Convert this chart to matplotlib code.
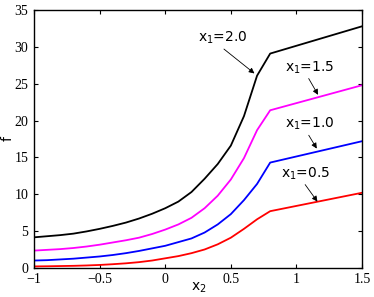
import matplotlib
matplotlib.use("Agg")
import matplotlib.pyplot as plt

x2 = [-1.0, -0.9, -0.8, -0.7, -0.6, -0.5, -0.4, -0.3, -0.2, -0.1,
      0.0, 0.1, 0.2, 0.3, 0.4, 0.5, 0.6, 0.7, 0.8, 1.5]

f_20 = [4.15, 4.3, 4.45, 4.65, 4.95, 5.3, 5.7, 6.15, 6.7, 7.35,
        8.1, 9.0, 10.3, 12.1, 14.1, 16.6, 20.6, 26.1, 29.1, 32.8]
f_15 = [2.35, 2.45, 2.55, 2.7, 2.9, 3.15, 3.45, 3.75, 4.1, 4.6,
        5.2, 5.9, 6.8, 8.1, 9.8, 12.0, 14.9, 18.7, 21.4, 24.8]
f_10 = [1.0, 1.05, 1.15, 1.25, 1.4, 1.55, 1.75, 2.0, 2.3, 2.65,
        3.0, 3.5, 4.0, 4.8, 5.9, 7.3, 9.2, 11.4, 14.3, 17.2]
f_05 = [0.2, 0.22, 0.25, 0.28, 0.33, 0.4, 0.5, 0.62, 0.78, 1.0,
        1.3, 1.6, 2.0, 2.5, 3.2, 4.1, 5.3, 6.6, 7.7, 10.2]

series = [f_20, f_15, f_10, f_05]
colors = ['black', 'magenta', 'blue', 'red']
labels = ['x$_1$=2.0', 'x$_1$=1.5', 'x$_1$=1.0', 'x$_1$=0.5']
label_pos = [(0.44, 31.2), (1.10, 27.2), (1.10, 19.5), (1.07, 12.8)]
arrow_tip = [(0.68, 26.4), (1.165, 23.5), (1.155, 16.2), (1.16, 9.0)]

plt.rcParams['mathtext.fontset'] = 'dejavusans'

fig = plt.figure(figsize=(3.74, 2.97), dpi=100)
ax = fig.add_axes([0.091, 0.098, 0.877, 0.868])

for y, c in zip(series, colors):
    ax.plot(x2, y, color=c, lw=1.3)

for lab, pos, tip in zip(labels, label_pos, arrow_tip):
    ax.annotate(lab, xy=tip, xytext=pos, ha='center', va='center',
                fontsize=10, family='DejaVu Sans',
                arrowprops=dict(arrowstyle='-|>', color='black', lw=0.6,
                                mutation_scale=8, shrinkA=0, shrinkB=0,
                                relpos=(0.45, 0.0)))

ax.set_xlim(-1, 1.5)
ax.set_ylim(0, 35)
ax.set_xticks([-1, -0.5, 0, 0.5, 1, 1.5])
ax.set_xticklabels(['\u22121', '\u22120.5', '0', '0.5', '1', '1.5'])
ax.set_yticks(range(0, 36, 5))
for lab in ax.get_xticklabels() + ax.get_yticklabels():
    lab.set_family('Liberation Serif')
    lab.set_fontsize(10)
ax.tick_params(direction='in', length=3, width=0.8, top=True, right=True)
ax.tick_params(axis='x', pad=3.5)
ax.tick_params(axis='y', pad=4)
for s in ax.spines.values():
    s.set_linewidth(1.0)

ax.set_xlabel('x$_2$', fontsize=10)
ax.set_ylabel('f', fontsize=10)
ax.xaxis.set_label_coords(0.503, -0.05)
ax.yaxis.set_label_coords(-0.058, 0.5)

fig.savefig('out.png', dpi=100)
